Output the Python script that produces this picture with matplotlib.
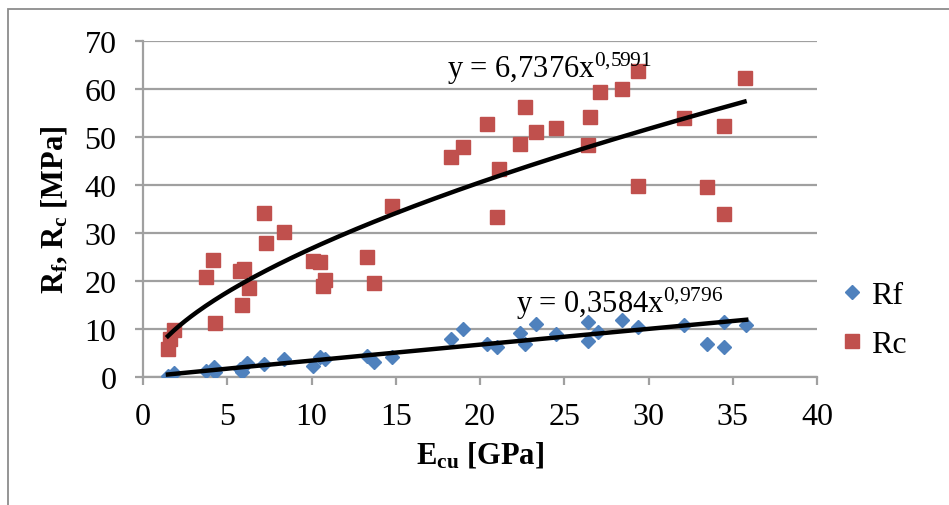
import matplotlib.pyplot as plt
import numpy as np
from matplotlib.patches import Rectangle

plt.rcParams['font.family'] = 'Liberation Serif'
plt.rcParams['mathtext.fontset'] = 'custom'
plt.rcParams['mathtext.rm'] = 'Liberation Serif'
plt.rcParams['mathtext.it'] = 'Liberation Serif:italic'
plt.rcParams['mathtext.bf'] = 'Liberation Serif:bold'

# data
rf_x = [1.48, 1.84, 3.73, 4.2, 4.27, 5.75, 5.9, 6.2, 7.2, 8.36, 10.07, 10.5, 10.8,
        13.3, 13.7, 14.75, 18.3, 19.0, 20.4, 21.0, 22.4, 22.7, 23.3, 24.5, 26.4,
        26.4, 27.0, 28.4, 29.4, 32.1, 33.5, 34.5, 34.5, 35.8]
rf_y = [0.2, 0.8, 1.25, 2.1, 1.0, 1.7, 1.0, 2.9, 2.7, 3.75, 2.3, 4.2, 3.75,
        4.4, 3.1, 4.2, 7.9, 10.0, 6.9, 6.25, 9.2, 6.9, 11.0, 9.0, 7.5,
        11.5, 9.4, 11.9, 10.4, 10.8, 6.9, 11.5, 6.25, 10.8]

rc_x = [1.48, 1.6, 1.84, 3.73, 4.15, 4.27, 5.75, 5.9, 6.0, 6.3, 7.2, 7.3, 8.36,
        10.07, 10.5, 10.8, 10.7, 13.3, 13.7, 14.75, 18.3, 19.0, 20.4, 21.0, 21.1,
        22.4, 22.7, 23.3, 24.5, 26.4, 26.5, 27.1, 28.4, 29.4, 29.4, 32.1, 33.5,
        34.5, 34.5, 35.7]
rc_y = [5.8, 7.9, 9.8, 20.8, 24.4, 11.3, 22.0, 15.0, 22.5, 18.5, 34.2, 27.9, 30.2,
        24.2, 24.0, 20.2, 19.0, 25.0, 19.6, 35.6, 45.8, 47.9, 52.7, 33.3, 43.4,
        48.5, 56.2, 51.0, 51.9, 48.3, 54.2, 59.4, 60.0, 63.8, 39.8, 54.0, 39.6,
        52.3, 34.0, 62.2]

rf_a, rf_b = 0.3584, 0.9796
rc_a, rc_b = 6.7376, 0.5991

blue = '#4F81BD'
red = '#C0504D'
gray = '#A0A0A0'

fig = plt.figure(figsize=(9.49, 5.06), dpi=100)
ax = fig.add_axes([143/949, 1-378/506, (817-143)/949, (378-42)/506])

fig.patches.append(Rectangle((8/949, -0.1), 1.1, 1.1 - 10/506, transform=fig.transFigure,
                             fill=False, edgecolor='#8C8C8C', linewidth=1.3))

ax.plot(rf_x, rf_y, 'D', color=blue, markersize=7.5, label='Rf', zorder=3)
ax.plot(rc_x, rc_y, 's', color=red, markersize=10.5, label='Rc', zorder=3)

xf = np.linspace(min(rf_x), max(rf_x), 200)
ax.plot(xf, rf_a * xf ** rf_b, color='black', linewidth=3.2, zorder=4)
xc = np.linspace(min(rc_x), max(rc_x), 200)
ax.plot(xc, rc_a * xc ** rc_b, color='black', linewidth=3.2, zorder=4)

ax.text(24.1, 62.6, r'y = 6,7376x$^{0{,}5991}$', fontsize=22, ha='center', va='baseline')
ax.text(28.3, 13.6, r'y = 0,3584x$^{0{,}9796}$', fontsize=22, ha='center', va='baseline')

ax.set_xlim(0, 40)
ax.set_ylim(0, 70)
ax.set_xticks(np.arange(0, 41, 5))
ax.set_yticks(np.arange(0, 71, 10))
ax.grid(axis='y', color=gray, linewidth=1.6)
ax.set_axisbelow(True)
for s in ['top', 'right']:
    ax.spines[s].set_visible(False)
for s in ['left', 'bottom']:
    ax.spines[s].set_color(gray)
    ax.spines[s].set_linewidth(1.6)
ax.tick_params(colors=gray, labelcolor='black', labelsize=23, length=6, width=1.6,
               direction='out')
ax.tick_params(axis='y', pad=13)
ax.tick_params(axis='x', pad=12)

ax.set_xlabel(r'$\mathbf{E_{cu}}$ [GPa]', fontsize=22, fontweight='bold', labelpad=6)
ax.set_ylabel(r'$\mathbf{R_f}$, $\mathbf{R_c}$ [MPa]', fontsize=22, fontweight='bold', labelpad=10)

ax.legend(loc='center left', bbox_to_anchor=(0.986, 0.17), frameon=False, fontsize=23,
          handletextpad=0.1, labelspacing=0.6, handlelength=1.0)

fig.savefig('out.png', dpi=100)
